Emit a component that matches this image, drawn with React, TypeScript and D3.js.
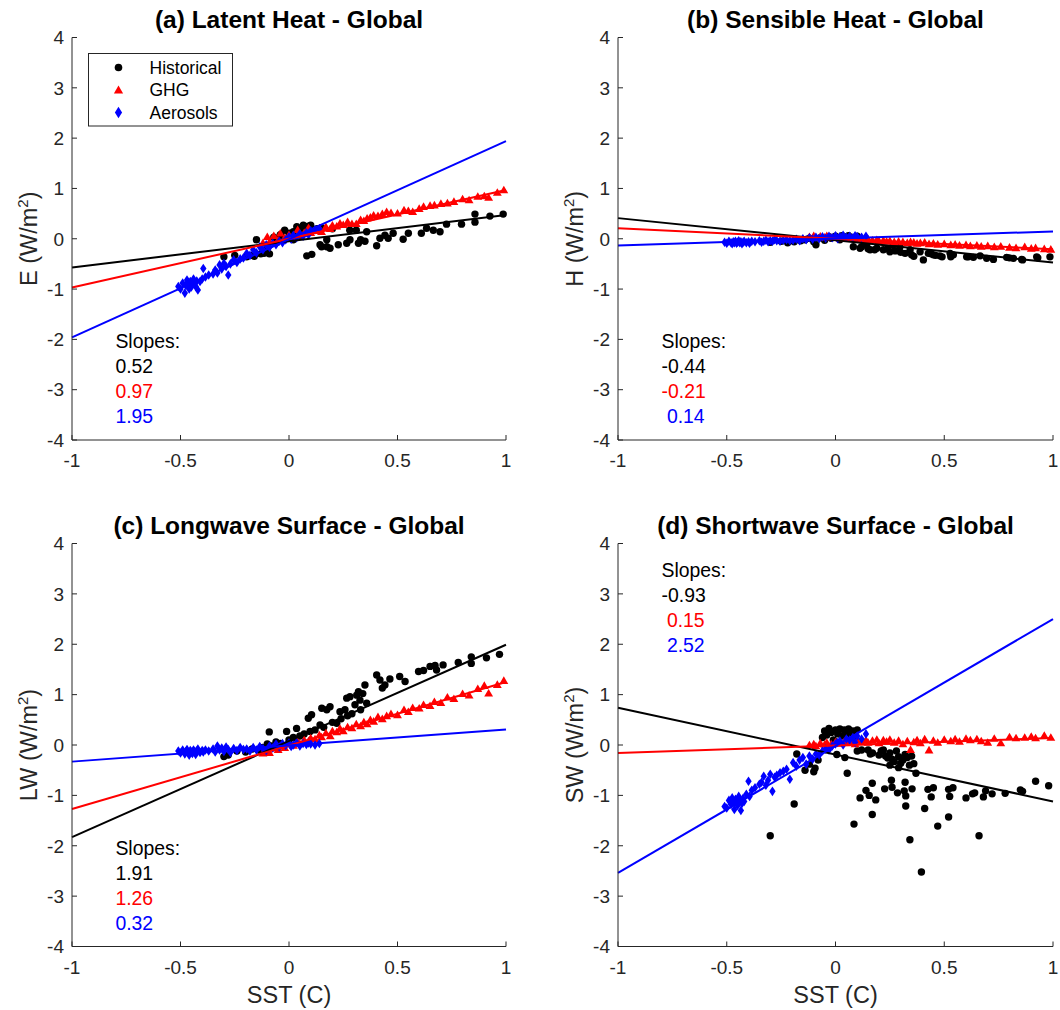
import React from 'react';
import * as d3 from 'd3';

// ---------------- data ----------------
const X_TICKS = [-1, -0.5, 0, 0.5, 1];
const X_TICK_LABELS = ['-1', '-0.5', '0', '0.5', '1'];
const Y_TICKS = [-4, -3, -2, -1, 0, 1, 2, 3, 4];
const Y_TICK_LABELS = ['-4', '-3', '-2', '-1', '0', '1', '2', '3', '4'];

const SERIES_NAMES = ['Historical', 'GHG', 'Aerosols'];
const SERIES_COLORS = ['#000000', '#ff0000', '#0000ff'];

const PANEL_TITLES = [
  '(a) Latent Heat - Global',
  '(b) Sensible Heat - Global',
  '(c) Longwave Surface - Global',
  '(d) Shortwave Surface - Global',
];
const PANEL_YVARS = ['E', 'H', 'LW', 'SW'];
const X_LABEL = 'SST (C)';

// Historical: [SST, flux] pairs per panel
const HIST_E: [number, number][] = [
  [-0.30, -0.36], [-0.25, -0.33], [-0.195, -0.36], [-0.17, -0.33], [-0.16, -0.35], [-0.15, -0.02],
  [-0.13, -0.30], [-0.115, -0.29], [-0.10, -0.20], [-0.09, -0.30], [-0.07, 0.03], [-0.06, -0.08],
  [-0.04, 0.08], [-0.03, -0.02], [-0.02, 0.17], [0.0, 0.11], [0.02, 0.14], [0.02, -0.02],
  [0.036, 0.24], [0.04, 0.21], [0.05, 0.06], [0.06, 0.17], [0.066, 0.27], [0.08, 0.24], [0.09, 0.25],
  [0.10, 0.27], [0.082, -0.34], [0.105, -0.31], [0.13, 0.20], [0.143, -0.12], [0.15, -0.16],
  [0.15, 0.22], [0.174, -0.02], [0.174, -0.16], [0.189, -0.19], [0.2, 0.20], [0.227, -0.12],
  [0.266, -0.09], [0.28, 0.17], [0.281, -0.02], [0.31, 0.17], [0.32, -0.09], [0.33, -0.02],
  [0.35, -0.05], [0.358, 0.14], [0.404, -0.14], [0.419, 0.01], [0.442, 0.07], [0.457, 0.01],
  [0.48, 0.11], [0.526, -0.01], [0.55, 0.11], [0.61, 0.11], [0.634, 0.21], [0.665, 0.17],
  [0.696, 0.14], [0.726, 0.29], [0.795, 0.29], [0.857, 0.49], [0.857, 0.33], [0.926, 0.45], [0.987, 0.49],
];
const HIST_H: [number, number][] = [
  [-0.30, -0.07], [-0.25, -0.05], [-0.22, -0.08], [-0.19, -0.06], [-0.16, -0.04], [-0.14, -0.02],
  [-0.12, 0.01], [-0.10, -0.06], [-0.09, -0.12], [-0.07, 0.02], [-0.05, -0.03], [-0.03, 0.04],
  [-0.02, 0.01], [0.0, 0.05], [0.02, -0.02], [0.03, 0.06], [0.05, 0.03], [0.06, 0.06], [0.08, 0.02],
  [0.082, -0.16], [0.10, 0.05], [0.113, -0.19], [0.12, -0.16], [0.144, -0.10], [0.15, -0.20],
  [0.159, -0.22], [0.18, -0.22], [0.19, -0.19], [0.22, -0.22], [0.24, -0.20], [0.25, -0.26],
  [0.266, -0.12], [0.27, -0.24], [0.28, -0.24], [0.296, -0.16], [0.30, -0.27], [0.32, -0.29],
  [0.343, -0.22], [0.35, -0.32], [0.36, -0.35], [0.389, -0.26], [0.404, -0.42], [0.427, -0.29],
  [0.44, -0.30], [0.45, -0.32], [0.46, -0.33], [0.48, -0.34], [0.49, -0.36], [0.527, -0.29],
  [0.53, -0.36], [0.542, -0.32], [0.603, -0.36], [0.611, -0.36], [0.634, -0.37], [0.665, -0.34],
  [0.695, -0.39], [0.726, -0.41], [0.787, -0.37], [0.80, -0.38], [0.818, -0.39], [0.856, -0.41],
  [0.86, -0.42], [0.925, -0.36], [0.93, -0.38], [0.986, -0.36],
];
const HIST_LW: [number, number][] = [
  [-0.30, -0.23], [-0.28, -0.20], [-0.24, -0.12], [-0.20, -0.14], [-0.17, -0.08], [-0.14, -0.10],
  [-0.12, -0.05], [-0.10, 0.02], [-0.091, 0.26], [-0.08, -0.02], [-0.06, 0.06], [-0.04, 0.03],
  [-0.011, 0.27], [0.0, 0.10], [0.02, 0.15], [0.035, 0.33], [0.05, 0.18], [0.07, 0.22], [0.089, 0.53],
  [0.097, 0.27], [0.104, 0.60], [0.12, 0.30], [0.143, 0.40], [0.151, 0.73], [0.16, 0.35],
  [0.174, 0.70], [0.189, 0.76], [0.20, 0.45], [0.22, 0.43], [0.235, 0.66], [0.24, 0.52],
  [0.258, 0.70], [0.266, 0.93], [0.27, 0.58], [0.281, 0.96], [0.29, 0.62], [0.304, 0.80],
  [0.312, 0.99], [0.32, 1.06], [0.327, 0.89], [0.33, 0.70], [0.34, 1.02], [0.35, 1.19], [0.358, 0.83],
  [0.404, 1.39], [0.419, 1.29], [0.43, 1.13], [0.442, 1.19], [0.465, 1.31], [0.51, 1.36],
  [0.535, 1.26], [0.597, 1.46], [0.62, 1.48], [0.65, 1.56], [0.673, 1.58], [0.68, 1.49],
  [0.71, 1.59], [0.78, 1.64], [0.84, 1.75], [0.84, 1.62], [0.91, 1.73], [0.97, 1.80],
];
const HIST_SW: [number, number][] = [
  [-0.30, -1.80], [-0.19, -1.17], [-0.178, -0.18], [-0.14, -0.50], [-0.12, -0.38], [-0.10, -0.53],
  [-0.094, -0.46], [-0.08, -0.30], [-0.06, 0.15], [-0.05, 0.28], [-0.04, 0.20], [-0.03, 0.33],
  [-0.02, 0.25], [-0.01, 0.10], [0.0, 0.30], [0.006, -0.19], [0.01, 0.22], [0.02, 0.32], [0.03, 0.18],
  [0.04, 0.30], [0.043, -0.25], [0.05, 0.25], [0.06, 0.32], [0.07, 0.20], [0.08, 0.28], [0.09, 0.15],
  [0.10, 0.30], [0.054, -0.56], [0.085, -1.57], [0.10, -0.12], [0.113, -1.05], [0.12, -0.10],
  [0.14, -0.90], [0.15, -0.10], [0.155, -1.00], [0.16, -0.18], [0.169, -0.76], [0.169, -1.38], [0.17, -0.16],
  [0.185, -1.09], [0.20, -0.20], [0.21, -0.12], [0.22, -0.10], [0.226, -0.87], [0.23, -0.22], [0.24, -0.26],
  [0.25, -0.16], [0.25, -0.40], [0.257, -0.70], [0.26, -0.84], [0.26, -0.28], [0.27, -0.33], [0.28, -0.12],
  [0.285, -0.95], [0.29, -0.23], [0.29, -0.45], [0.30, -0.36], [0.31, -0.30],
  [0.316, -0.91], [0.32, -0.74], [0.32, -0.19], [0.323, -1.01], [0.323, -1.21], [0.33, -0.25], [0.34, -0.40],
  [0.342, -1.88], [0.35, -0.22], [0.352, -0.87], [0.36, -0.37], [0.37, -0.56], [0.395, -2.52], [0.41, -1.26],
  [0.425, -0.88], [0.44, -1.03], [0.45, -0.85], [0.47, -1.61], [0.52, -1.43], [0.52, -0.88],
  [0.525, -1.02], [0.54, -0.85], [0.60, -1.05], [0.63, -0.97], [0.64, -0.95], [0.66, -1.80],
  [0.68, -1.03], [0.69, -0.91], [0.72, -0.97], [0.78, -0.96], [0.85, -0.89], [0.86, -0.92],
  [0.92, -0.72], [0.98, -0.81],
];

// GHG: shared SST, per-panel flux
const GHG_SST = [
  -0.12, -0.10, -0.09, -0.07, -0.05, -0.04, -0.02, 0.0, 0.02, 0.04, 0.05, 0.07, 0.09, 0.10, 0.12,
  0.14, 0.15, 0.17, 0.19, 0.20, 0.22, 0.235, 0.25, 0.27, 0.29, 0.31, 0.33, 0.345, 0.36, 0.375, 0.39,
  0.41, 0.43, 0.45, 0.47, 0.50, 0.53, 0.55, 0.57, 0.60, 0.62, 0.65, 0.67, 0.70, 0.73, 0.76, 0.80,
  0.83, 0.87, 0.90, 0.92, 0.96, 0.99,
];
const GHG_E = [
  -0.08, 0.04, -0.06, 0.06, -0.03, 0.11, 0.02, 0.08, 0.04, 0.18, 0.07, 0.12, 0.22, 0.12, 0.16,
  0.21, 0.14, 0.24, 0.20, 0.27, 0.25, 0.31, 0.28, 0.34, 0.30, 0.30, 0.38, 0.36, 0.41, 0.43, 0.47,
  0.46, 0.50, 0.54, 0.52, 0.51, 0.57, 0.56, 0.54, 0.60, 0.64, 0.66, 0.67, 0.70, 0.71, 0.74, 0.79,
  0.77, 0.84, 0.85, 0.82, 0.92, 0.97,
];
const GHG_H = [
  0.04, 0.06, 0.02, 0.05, 0.03, 0.06, 0.02, 0.04, 0.01, 0.03, 0.00, 0.02, 0.01, -0.01, 0.00,
  -0.02, -0.01, -0.03, -0.02, -0.04, -0.03, -0.05, -0.04, -0.06, -0.05, -0.06, -0.08, -0.06, -0.07,
  -0.09, -0.08, -0.07, -0.10, -0.09, -0.11, -0.10, -0.12, -0.11, -0.13, -0.12, -0.14, -0.13, -0.15,
  -0.14, -0.16, -0.15, -0.17, -0.18, -0.16, -0.19, -0.18, -0.20, -0.21,
];
const GHG_LW = [
  -0.16, -0.10, -0.15, -0.06, -0.09, -0.02, -0.05, 0.02, -0.01, 0.06, 0.03, 0.10, 0.08, 0.14, 0.12,
  0.20, 0.16, 0.24, 0.18, 0.28, 0.26, 0.33, 0.28, 0.36, 0.34, 0.42, 0.38, 0.46, 0.42, 0.50, 0.47,
  0.56, 0.52, 0.58, 0.62, 0.60, 0.70, 0.66, 0.74, 0.73, 0.80, 0.78, 0.86, 0.84, 0.95, 0.92, 1.02,
  0.99, 1.12, 1.18, 1.03, 1.20, 1.28,
];
const GHG_SW = [
  0.00, 0.02, -0.02, 0.04, 0.01, 0.05, 0.02, 0.06, 0.03, 0.07, 0.04, 0.08, 0.02, 0.09, 0.06,
  0.10, 0.05, 0.09, 0.11, 0.04, 0.10, 0.07, 0.11, 0.05, 0.09, 0.02, 0.08, -0.09, 0.06, 0.10, 0.04,
  0.12, -0.10, 0.09, 0.05, 0.11, 0.08, 0.12, 0.07, 0.13, 0.10, 0.12, 0.08, 0.05, 0.13, 0.04, 0.16,
  0.14, 0.15, 0.17, 0.14, 0.19, 0.15,
];

// Aerosols: shared SST, per-panel flux
const AER_SST = [
  -0.51, -0.50, -0.49, -0.48, -0.475, -0.47, -0.465, -0.46, -0.455, -0.45, -0.445, -0.44, -0.435,
  -0.43, -0.425, -0.42, -0.41, -0.40, -0.395, -0.385,
  -0.37, -0.35, -0.34, -0.33, -0.32, -0.31, -0.30, -0.29, -0.28, -0.27, -0.255, -0.24, -0.225, -0.21,
  -0.195, -0.18, -0.165, -0.15, -0.135, -0.12, -0.105, -0.09, -0.075, -0.06, -0.045, -0.03, -0.015,
  0.0, 0.01, 0.02, 0.035, 0.05, 0.065, 0.08, 0.09, 0.10, 0.12, 0.14,
];
const AER_E = [
  -0.95, -1.00, -0.88, -1.08, -0.93, -0.82, -0.92, -1.00, -0.85, -0.96, -0.88, -0.80, -0.90, -0.95,
  -0.84, -1.02, -0.85, -0.80, -0.59, -0.76,
  -0.72, -0.70, -0.62, -0.68, -0.52, -0.60, -0.49, -0.55, -0.72, -0.50, -0.42, -0.47, -0.40, -0.38,
  -0.29, -0.33, -0.22, -0.28, -0.16, -0.22, -0.12, -0.17, -0.09, -0.12, -0.05, -0.08, -0.02, 0.04,
  -0.01, 0.07, 0.02, 0.10, 0.05, 0.12, 0.08, 0.16, 0.18, 0.20,
];
const AER_H = [
  -0.07, -0.09, -0.05, -0.08, -0.10, -0.06, -0.08, -0.05, -0.09, -0.07, -0.04, -0.08, -0.06, -0.10,
  -0.07, -0.05, -0.08, -0.06, -0.09, -0.05,
  -0.06, -0.04, -0.07, -0.05, -0.03, -0.06, -0.04, -0.05, -0.02, -0.04, -0.05, -0.03, -0.02, -0.04,
  -0.03, -0.01, -0.04, 0.00, -0.02, 0.02, -0.01, 0.03, 0.00, 0.04, 0.01, 0.05, 0.02, 0.06, 0.00,
  0.04, 0.07, 0.03, 0.05, 0.02, 0.06, 0.04, 0.03, 0.05,
];
const AER_LW = [
  -0.12, -0.16, -0.10, -0.18, -0.13, -0.09, -0.15, -0.20, -0.11, -0.14, -0.17, -0.10, -0.13, -0.19,
  -0.12, -0.08, -0.15, -0.11, -0.14, -0.10,
  -0.12, -0.08, -0.14, -0.02, -0.10, -0.06, -0.13, -0.04, -0.09, -0.15, -0.07, -0.11, -0.05, -0.09,
  -0.08, -0.12, -0.05, -0.10, -0.03, -0.07, -0.11, -0.02, -0.06, 0.02, -0.04, 0.03, -0.01, 0.04,
  -0.03, 0.00, 0.05, -0.02, 0.03, 0.01, 0.04, 0.02, 0.00, 0.03,
];
const AER_SW = [
  -1.22, -1.25, -1.10, -1.18, -1.05, -1.12, -1.28, -1.08, -1.15, -1.20, -1.02, -1.10, -1.30, -1.16,
  -1.06, -1.12, -0.98, -0.72, -1.02, -0.90,
  -0.85, -0.78, -0.74, -0.62, -0.80, -0.70, -0.58, -0.92, -0.64, -0.60, -0.55, -0.52, -0.48, -0.68,
  -0.35, -0.42, -0.30, -0.25, -0.38, -0.22, -0.28, -0.18, -0.20, -0.12, -0.08, -0.10, -0.02, 0.02,
  0.05, 0.08, 0.00, 0.12, 0.10, 0.15, 0.05, 0.18, 0.12, 0.22,
];

// Regression fits (slope, intercept) per panel, order: Historical, GHG, Aerosols
const FIT_SLOPE_E = [0.52, 0.97, 1.95];
const FIT_ICPT_E = [-0.05, 0.0, -0.01];
const FIT_SLOPE_H = [-0.44, -0.21, 0.14];
const FIT_ICPT_H = [-0.03, 0.0, 0.005];
const FIT_SLOPE_LW = [1.91, 1.26, 0.32];
const FIT_ICPT_LW = [0.08, -0.01, -0.01];
const FIT_SLOPE_SW = [-0.93, 0.15, 2.52];
const FIT_ICPT_SW = [-0.19, -0.01, -0.02];

const SLOPE_TEXT_E = ['0.52', '0.97', '1.95'];
const SLOPE_TEXT_H = ['-0.44', '-0.21', ' 0.14'];
const SLOPE_TEXT_LW = ['1.91', '1.26', '0.32'];
const SLOPE_TEXT_SW = ['-0.93', ' 0.15', ' 2.52'];

// ---------------- layout / style ----------------
const FONT = '"Liberation Sans", Arial, Helvetica, sans-serif';
const AXIS_COLOR = '#262626';
const LAYOUT = [
  { left: 72, right: 506, top: 37.5, bottom: 440, slopeAt: [-0.8, -2.17], showX: false, legend: true },
  { left: 618, right: 1053, top: 37.5, bottom: 440, slopeAt: [-0.8, -2.17], showX: false, legend: false },
  { left: 72, right: 506, top: 543.5, bottom: 946.5, slopeAt: [-0.8, -2.19], showX: true, legend: false },
  { left: 618, right: 1053, top: 543.5, bottom: 946.5, slopeAt: [-0.8, 3.34], showX: true, legend: false },
];

const zip = (xs: number[], ys: number[]): [number, number][] =>
  xs.slice(0, Math.min(xs.length, ys.length)).map((x, i) => [x, ys[i]]);

const PANEL_DATA = [
  { hist: HIST_E, ghg: zip(GHG_SST, GHG_E), aer: zip(AER_SST, AER_E), slope: FIT_SLOPE_E, icpt: FIT_ICPT_E, text: SLOPE_TEXT_E },
  { hist: HIST_H, ghg: zip(GHG_SST, GHG_H), aer: zip(AER_SST, AER_H), slope: FIT_SLOPE_H, icpt: FIT_ICPT_H, text: SLOPE_TEXT_H },
  { hist: HIST_LW, ghg: zip(GHG_SST, GHG_LW), aer: zip(AER_SST, AER_LW), slope: FIT_SLOPE_LW, icpt: FIT_ICPT_LW, text: SLOPE_TEXT_LW },
  { hist: HIST_SW, ghg: zip(GHG_SST, GHG_SW), aer: zip(AER_SST, AER_SW), slope: FIT_SLOPE_SW, icpt: FIT_ICPT_SW, text: SLOPE_TEXT_SW },
];

const trianglePath = (x: number, y: number, s = 1) =>
  `M${x},${y - 4 * s}L${x + 4.2 * s},${y + 3.2 * s}L${x - 4.2 * s},${y + 3.2 * s}Z`;
const diamondPath = (x: number, y: number, w = 3.2, h = 4.8) =>
  `M${x},${y - h}L${x + w},${y}L${x},${y + h}L${x - w},${y}Z`;

function Marker({ kind, x, y, big }: { kind: number; x: number; y: number; big?: boolean }) {
  if (kind === 0) return <circle cx={x} cy={y} r={big ? 3.8 : 3.7} fill={SERIES_COLORS[0]} />;
  if (kind === 1) return <path d={trianglePath(x, y, big ? 1.1 : 1.05)} fill={SERIES_COLORS[1]} />;
  return <path d={big ? diamondPath(x, y, 3.6, 5.8) : diamondPath(x, y)} fill={SERIES_COLORS[2]} />;
}

function Panel({ idx }: { idx: number }) {
  const L = LAYOUT[idx];
  const D = PANEL_DATA[idx];
  const xs = d3.scaleLinear().domain([-1, 1]).range([L.left, L.right]);
  const ys = d3.scaleLinear().domain([-4, 4]).range([L.bottom, L.top]);
  const cx = (L.left + L.right) / 2;
  const cy = (L.top + L.bottom) / 2;
  const line = d3.line<[number, number]>().x((d) => xs(d[0])).y((d) => ys(d[1]));
  const series = [D.hist, D.ghg, D.aer];
  return (
    <g>
      <defs>
        <clipPath id={`clip${idx}`}>
          <rect x={L.left - 4} y={L.top} width={L.right - L.left + 8} height={L.bottom - L.top} />
        </clipPath>
      </defs>
      {/* title */}
      <text x={cx} y={L.top - 10} textAnchor="middle" fontFamily={FONT} fontWeight="bold" fontSize={24.5} fill="#000">
        {PANEL_TITLES[idx]}
      </text>
      {/* points */}
      <g clipPath={`url(#clip${idx})`}>
        {series.map((pts, s) => (
          <g key={s}>
            {pts.map((p, i) => (
              <Marker key={i} kind={s} x={xs(p[0])} y={ys(p[1])} />
            ))}
          </g>
        ))}
        {/* fit lines */}
        {D.slope.map((m, s) => (
          <path
            key={s}
            d={line([[-1, m * -1 + D.icpt[s]], [1, m * 1 + D.icpt[s]]]) || ''}
            stroke={SERIES_COLORS[s]}
            strokeWidth={2}
            fill="none"
          />
        ))}
      </g>
      {/* axes */}
      <line x1={L.left} x2={L.right} y1={L.bottom} y2={L.bottom} stroke={AXIS_COLOR} strokeWidth={1} />
      <line x1={L.left} x2={L.left} y1={L.top} y2={L.bottom} stroke={AXIS_COLOR} strokeWidth={1} />
      {X_TICKS.map((t, i) => (
        <g key={`x${i}`}>
          <line x1={xs(t)} x2={xs(t)} y1={L.bottom} y2={L.bottom - 5} stroke={AXIS_COLOR} strokeWidth={1} />
          <text x={xs(t)} y={L.bottom + 27} textAnchor="middle" fontFamily={FONT} fontSize={19} fill={AXIS_COLOR}>
            {X_TICK_LABELS[i]}
          </text>
        </g>
      ))}
      {Y_TICKS.map((t, i) => (
        <g key={`y${i}`}>
          <line x1={L.left} x2={L.left + 5} y1={ys(t)} y2={ys(t)} stroke={AXIS_COLOR} strokeWidth={1} />
          <text x={L.left - 8} y={ys(t) + 6.8} textAnchor="end" fontFamily={FONT} fontSize={19} fill={AXIS_COLOR}>
            {Y_TICK_LABELS[i]}
          </text>
        </g>
      ))}
      {/* y label */}
      <text
        transform={`translate(${L.left - 35},${cy}) rotate(-90)`}
        textAnchor="middle"
        fontFamily={FONT}
        fontSize={23.5}
        fill={AXIS_COLOR}
      >
        {PANEL_YVARS[idx]} (W/m
        <tspan dy={-9} fontSize={15}>2</tspan>
        <tspan dy={9}>)</tspan>
      </text>
      {/* x label */}
      {L.showX && (
        <text x={cx} y={L.bottom + 56} textAnchor="middle" fontFamily={FONT} fontSize={23.5} fill={AXIS_COLOR}>
          {X_LABEL}
        </text>
      )}
      {/* slopes text */}
      <g fontFamily={FONT} fontSize={19.4} style={{ whiteSpace: 'pre' }}>
        <text x={xs(L.slopeAt[0])} y={ys(L.slopeAt[1])} fill="#000" xmlSpace="preserve">Slopes:</text>
        {D.text.map((s, i) => (
          <text key={i} x={xs(L.slopeAt[0])} y={ys(L.slopeAt[1]) + 25 * (i + 1)} fill={SERIES_COLORS[i]} xmlSpace="preserve">
            {s}
          </text>
        ))}
      </g>
      {/* legend */}
      {L.legend && (
        <g>
          <rect x={88.5} y={53.5} width={144} height={72.5} fill="#fff" stroke={AXIS_COLOR} strokeWidth={1} />
          {SERIES_NAMES.map((n, i) => (
            <g key={n}>
              <Marker kind={i} x={118.5} y={67.5 + 22.5 * i} big />
              <text x={149.5} y={67.5 + 22.5 * i + 6.2} fontFamily={FONT} fontSize={17.5} fill="#000">
                {n}
              </text>
            </g>
          ))}
        </g>
      )}
    </g>
  );
}

export default function App() {
  return (
    <div style={{ position: 'absolute', left: 0, top: 0 }}>
      <svg width={1060} height={1010} viewBox="0 0 1060 1010" style={{ display: 'block', background: '#fff' }}>
        <rect width={1060} height={1010} fill="#fff" />
        {[0, 1, 2, 3].map((i) => (
          <Panel key={i} idx={i} />
        ))}
      </svg>
    </div>
  );
}
